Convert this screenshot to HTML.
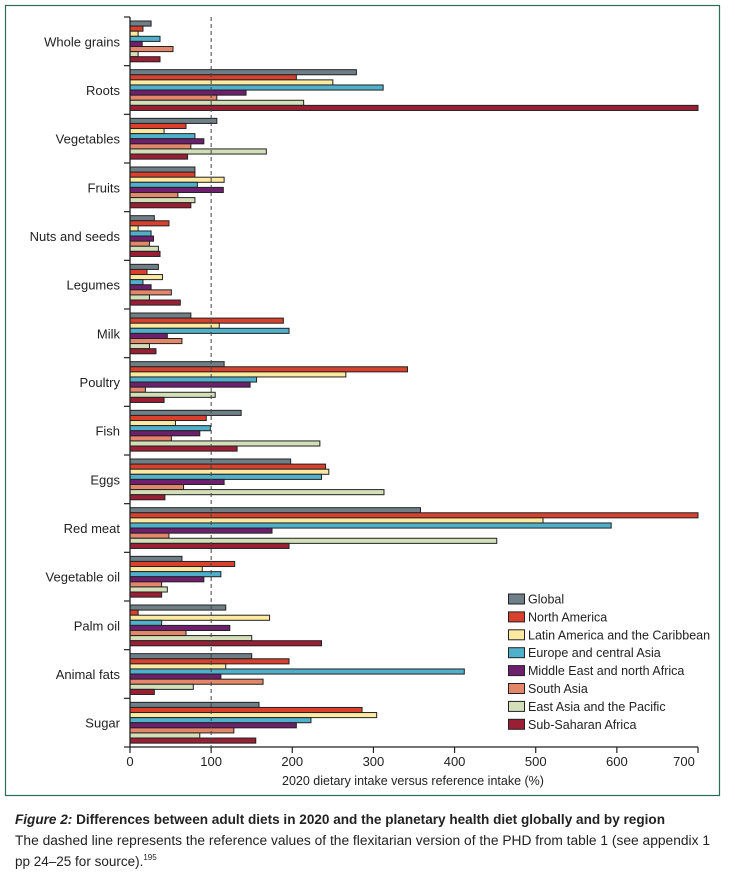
<!DOCTYPE html>
<html><head><meta charset="utf-8"><style>
html,body{margin:0;padding:0;background:#fff;width:735px;height:884px;overflow:hidden}
svg{display:block;font-family:"Liberation Sans",sans-serif}
</style></head><body>
<svg id="chart" width="735" height="884" viewBox="0 0 735 884" xmlns="http://www.w3.org/2000/svg">
<rect x="5.5" y="5.5" width="714" height="790" fill="none" stroke="#2a6e55" stroke-width="1.2"/>
<g id="bars"></g><g id="axes"></g><g id="legend"></g>
<text x="15" y="824" font-size="13.5" font-weight="bold" fill="#222" textLength="650" lengthAdjust="spacingAndGlyphs"><tspan font-style="italic">Figure 2:</tspan> Differences between adult diets in 2020 and the planetary health diet globally and by region</text>
<text x="15" y="845" font-size="13.5" fill="#222" textLength="695" lengthAdjust="spacingAndGlyphs">The dashed line represents the reference values of the flexitarian version of the PHD from table 1 (see appendix 1</text>
<text x="15" y="866" font-size="13.5" fill="#222">pp 24–25 for source).<tspan font-size="8" dy="-6">195</tspan></text>
</svg>
<script>
const categories=["Whole grains","Roots","Vegetables","Fruits","Nuts and seeds","Legumes","Milk","Poultry","Fish","Eggs","Red meat","Vegetable oil","Palm oil","Animal fats","Sugar"];
const seriesNames=["Global","North America","Latin America and the Caribbean","Europe and central Asia","Middle East and north Africa","South Asia","East Asia and the Pacific","Sub-Saharan Africa"];
const seriesColors=["#6f7f87","#d9412e","#fde9a0","#4fb0cc","#6e1f6e","#e3866a","#d2dfb9","#9a1f35"];
const globalVals=[26,279,107,80,30,35,75,116,137,198,358,64,118,150,159];
const northAmerica=[16,205,69,80,48,21,189,342,94,241,700,129,10,196,286];
const latinAmerica=[10,250,42,116,10,40,110,266,56,245,509,89,172,118,304];
const europeCentralAsia=[37,312,80,83,26,16,196,156,99,236,593,112,39,412,223];
const middleEast=[15,143,91,115,29,26,46,148,86,116,175,91,123,112,205];
const southAsia=[53,107,75,59,24,51,64,19,51,66,48,39,69,164,128];
const eastAsiaPacific=[10,214,168,80,35,24,24,105,234,313,452,46,150,78,86];
const subSaharan=[37,700,71,75,37,62,32,42,132,43,196,39,236,30,155];
const series=[globalVals,northAmerica,latinAmerica,europeCentralAsia,middleEast,southAsia,eastAsiaPacific,subSaharan];
const xTicks=[0,100,200,300,400,500,600,700];
const refValue=100;
const NS="http://www.w3.org/2000/svg";
const x0=130,x1=698,xMax=700,yTop=17,yBot=747;
const groupH=(yBot-yTop)/categories.length;
const barH=5.1;
function xs(v){return x0+(Math.min(v,xMax)/xMax)*(x1-x0);}
function gy(i){return yTop+i*groupH;}
function mk(tag,attrs,parent){const e=document.createElementNS(NS,tag);for(const k in attrs)e.setAttribute(k,attrs[k]);parent.appendChild(e);return e;}
const bars=document.getElementById('bars'),axes=document.getElementById('axes'),legend=document.getElementById('legend');
categories.forEach((c,i)=>{
  series.forEach((s,j)=>{
    const r=mk('rect',{x:x0,y:gy(i)+4+j*barH,width:xs(s[i])-x0,height:barH,fill:seriesColors[j],stroke:"#222","stroke-width":1},bars);
    
    
  });
  const t=mk('text',{x:120,y:gy(i)+groupH/2+5,"text-anchor":"end","font-size":13,fill:"#222"},axes);
  t.textContent=c;
  
  
});
for(let i=0;i<=categories.length;i++){
  const l=mk('line',{x1:124,x2:x0,y1:gy(i),y2:gy(i),stroke:"#222","stroke-width":1.2},axes);
  
  
}
const ya=mk('line',{x1:x0,x2:x0,y1:yTop,y2:yBot,stroke:"#222","stroke-width":1.3},axes);


const xa=mk('line',{x1:x0,x2:x1,y1:yBot,y2:yBot,stroke:"#222","stroke-width":1.3},axes);


xTicks.forEach(v=>{
  const l=mk('line',{x1:xs(v),x2:xs(v),y1:yBot,y2:yBot+6,stroke:"#222","stroke-width":1.2},axes);
  
  
  const t=mk('text',{x:v===700?xs(v)-14:xs(v),y:766,"text-anchor":"middle","font-size":13,fill:"#222"},axes);
  t.textContent=v;
  
  
});
const ref=mk('line',{x1:xs(refValue),x2:xs(refValue),y1:yTop,y2:yBot,stroke:"#444","stroke-width":1,"stroke-dasharray":"4,3"},axes);


const xt=mk('text',{x:413,y:785,"text-anchor":"middle","font-size":12.5,fill:"#222"},axes);
xt.textContent="2020 dietary intake versus reference intake (%)";


seriesNames.forEach((n,j)=>{
  const y=599+j*17.9;
  const r=mk('rect',{x:508.5,y:y-5,width:16,height:10,fill:seriesColors[j],stroke:"#222","stroke-width":1},legend);
  
  
  const t=mk('text',{x:528,y:y+4.5,"font-size":12.5,fill:"#222"},legend);
  t.textContent=n;
  
  
});
</script>
</body></html>
